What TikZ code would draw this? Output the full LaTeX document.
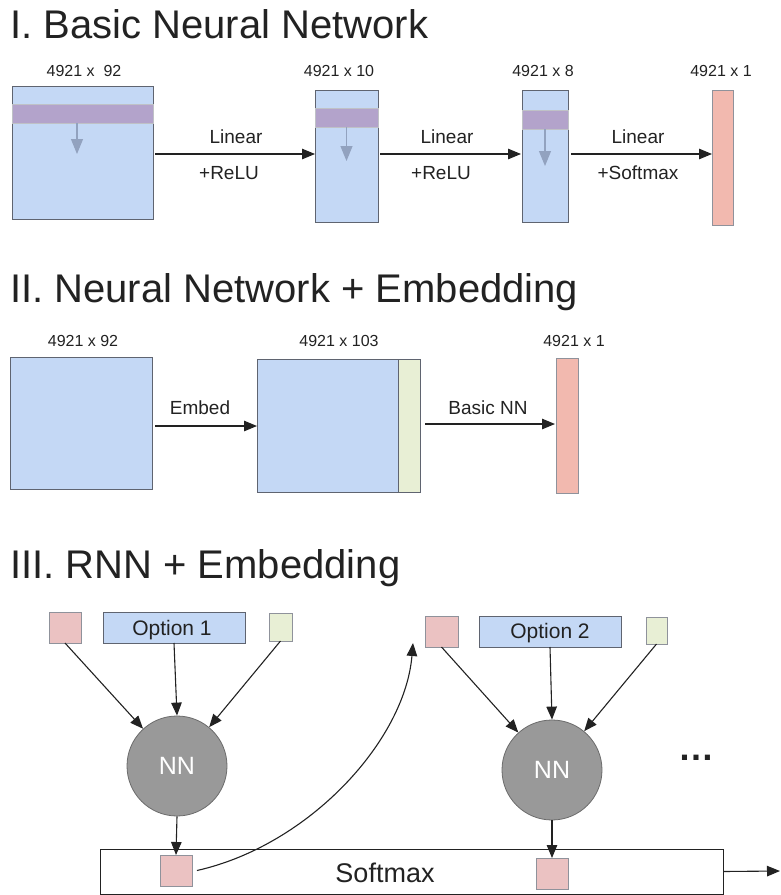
\documentclass[tikz,border=0pt]{standalone}
\usepackage{fontspec}
\setmainfont{Liberation Sans}
\usetikzlibrary{arrows.meta,calc}
\definecolor{nnblue}{HTML}{C4D8F5}
\definecolor{nnpink}{HTML}{F2B9AF}
\definecolor{sqpink}{HTML}{EBC2C2}
\definecolor{nngreen}{HTML}{E8EFD5}
\definecolor{nnpurple}{HTML}{B3A3CB}
\definecolor{nngray}{HTML}{999999}
\definecolor{boxline}{HTML}{5F6470}
\definecolor{txt}{HTML}{222222}
\definecolor{inarrc}{HTML}{92A2BF}
\begin{document}
\begin{tikzpicture}[x=1pt,y=-1pt,
  box/.style={draw=boxline, line width=0.8pt, inner sep=0pt, outer sep=0pt},
  bluebox/.style={box, fill=nnblue},
  pinkbox/.style={box, draw=boxline!70, fill=nnpink},
  sqbox/.style={box, draw=boxline!70, fill=sqpink},
  greenbox/.style={box, draw=boxline!70, fill=nngreen},
  band/.style={inner sep=0pt, outer sep=0pt, fill=nnpurple, draw=boxline!40, line width=0.5pt},
  nncirc/.style={circle, draw=nngray!70!black, fill=nngray, line width=0.8pt, minimum size=100pt, inner sep=0pt, text=white, font=\fontsize{25}{30}\selectfont},
  lab/.style={font=\fontsize{19}{23}\selectfont, text=txt, inner sep=0pt},
  dimlab/.style={font=\fontsize{16}{19}\selectfont, text=txt, inner sep=0pt},
  optlab/.style={font=\fontsize{21}{25}\selectfont, text=txt, inner sep=0pt, anchor=base},
  ttl/.style={font=\fontsize{40}{48}\selectfont, text=txt, inner sep=0pt, anchor=base west},
  arr/.style={-{Triangle[length=13pt,width=10.5pt]}, line width=1.1pt, draw=txt},
  inarr/.style={-{Triangle[length=15pt,width=12pt]}, line width=1.1pt, draw=inarrc}
]
\useasboundingbox (0,0) rectangle (780,895);

% ---------- Section I ----------
\node[ttl] (t1) at (10,38) {I. Basic Neural Network};

\node[bluebox, minimum width=141pt, minimum height=133pt] (a1) at (82.5,152.5) {};
\node[band, minimum width=141pt, minimum height=19pt, anchor=north west] (a1b) at (12,104) {};
\draw[inarr] ($(a1b.south)+(-5.5,0)$) -- ++(0,31);

\node[bluebox, minimum width=63pt, minimum height=132pt] (a2) at (346.5,156) {};
\node[band, minimum width=63pt, minimum height=19pt, anchor=north west] (a2b) at (315,108) {};
\draw[inarr] (a2b.south) -- ++(0,34);

\node[bluebox, minimum width=46pt, minimum height=132pt] (a3) at (545,156) {};
\node[band, minimum width=46pt, minimum height=19pt, anchor=north west] (a3b) at (522,110) {};
\draw[inarr] (a3b.south) -- ++(0,37);

\node[pinkbox, minimum width=21pt, minimum height=135pt] (a4) at (722.5,157.5) {};

\node[dimlab] (d1) at (84,71) {4921 x \ 92};
\node[dimlab] (d2) at (339,71) {4921 x 10};
\node[dimlab] (d3) at (543,71) {4921 x 8};
\node[dimlab] (d4) at (721,71) {4921 x 1};

\draw[arr] ($(a1.east)+(2,1.5)$) -- ($(a1.east -| a2.west)+(0,1.5)$);
\draw[arr] ($(a2.east)+(2,-2)$) -- ($(a2.east -| a3.west)+(-1,-2)$);
\draw[arr] ($(a3.east)+(3,-2)$) -- ($(a3.east -| a4.west)+(0,-2)$);

\node[lab] (l1a) at (236,137) {Linear};
\node[lab] (l1b) at (229,173) {+ReLU};
\node[lab] (l2a) at (447,137) {Linear};
\node[lab] (l2b) at (441,173) {+ReLU};
\node[lab] (l3a) at (638,137) {Linear};
\node[lab] (l3b) at (638,173) {+Softmax};

% ---------- Section II ----------
\node[ttl] (t2) at (10,302) {II. Neural Network + Embedding};

\node[bluebox, minimum width=142pt, minimum height=132pt] (b1) at (81,423) {};
\node[bluebox, minimum width=141pt, minimum height=133pt] (b2) at (327.5,425.5) {};
\node[greenbox, draw=boxline, minimum width=22pt, minimum height=133pt] (b2g) at (409,425.5) {};
\node[pinkbox, minimum width=22pt, minimum height=135pt] (b3) at (567,425.5) {};

\node[dimlab] (e1) at (83,341) {4921 x 92};
\node[dimlab] (e2) at (339,341) {4921 x 103};
\node[dimlab] (e3) at (574,341) {4921 x 1};

\draw[arr] ($(b1.east)+(3,3)$) -- ($(b1.east -| b2.west)+(0,3)$);
\draw[arr] ($(b2g.east)+(5,-1.5)$) -- ($(b2g.east -| b3.west)+(-1,-1.5)$);

\node[lab] (m1) at (200,408) {Embed};
\node[lab] (m2) at (488,408) {Basic NN};

% ---------- Section III ----------
\node[ttl] (t3) at (10,578) {III. RNN + Embedding};

\node[sqbox, minimum width=32pt, minimum height=31pt] (p1) at (65,627.5) {};
\node[bluebox, minimum width=142pt, minimum height=31pt] (o1) at (174,627.5) {};
\node[optlab] (o1t) at (172,635) {Option 1};
\node[greenbox, minimum width=23pt, minimum height=28pt] (g1) at (280.5,627) {};
\node[nncirc] (n1) at (177,766) {NN};

\node[sqbox, minimum width=33pt, minimum height=31pt] (p2) at (441.5,631.5) {};
\node[bluebox, minimum width=142pt, minimum height=31pt] (o2) at (550,631.5) {};
\node[optlab] (o2t) at (550,638.5) {Option 2};
\node[greenbox, minimum width=21pt, minimum height=27pt] (g2) at (656.5,630.5) {};
\node[nncirc] (n2) at (552,770) {NN};

\node[box, draw=txt, fill=white, minimum width=623pt, minimum height=45pt] (soft) at (411.5,871.5) {};
\node[font=\fontsize{27}{32}\selectfont, text=txt, inner sep=0pt] (softt) at (385,873) {Softmax};
\node[sqbox, minimum width=32pt, minimum height=31pt] (s1) at (176,870.5) {};
\node[sqbox, minimum width=32pt, minimum height=31pt] (s2) at (552,873.5) {};

\node[font=\bfseries\fontsize{36}{40}\selectfont, text=txt, inner sep=0pt, anchor=base] (dots) at (696,760) {…};

\draw[arr] (p1.south) -- (n1);
\draw[arr] (o1.south) -- (n1.north);
\draw[arr] (g1.south) -- (n1);
\draw[arr] (n1.south) -- (s1.north);

\draw[arr] (p2.south) -- (n2);
\draw[arr] (o2.south) -- (n2.north);
\draw[arr] (g2.south) -- (n2);
\draw[arr] (n2.south) -- (s2.north);

\coordinate (cend) at ($(p2.south west)+(-12,-4)$);
\draw[arr] ($(s1.east)+(5,0)$) .. controls (310,845) and (405,740) .. (cend);

\coordinate (out) at (780,871);
\draw[arr] (soft.east) -- (out);
\end{tikzpicture}
\end{document}
